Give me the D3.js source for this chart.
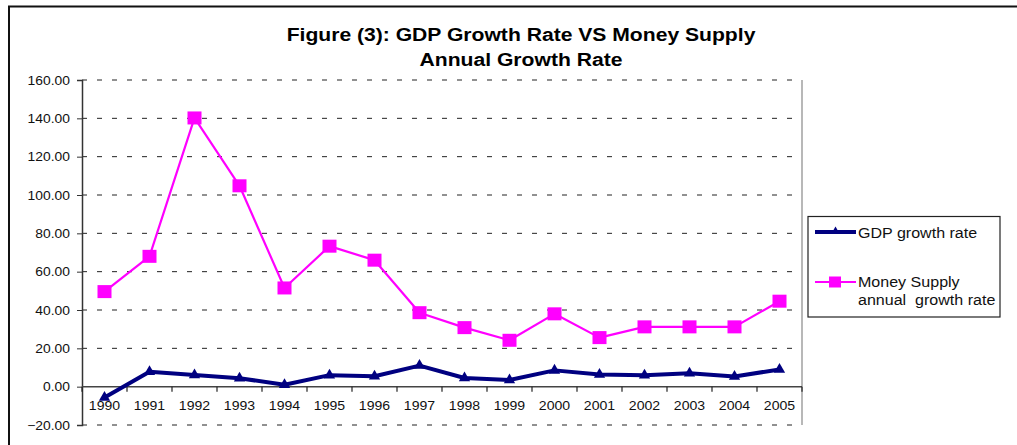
<!DOCTYPE html>
<html>
<head>
<meta charset="utf-8">
<script src="https://cdn.jsdelivr.net/npm/d3@7"></script>
<style>
  html, body { margin: 0; padding: 0; background: #fff; }
  svg { display: block; font-family: "Liberation Sans", Arial, sans-serif; }
</style>
</head>
<body>
<svg id="chart" width="1017" height="445"></svg>
<script>
// Annual growth rates (%), 1990–2005
const years = ["1990","1991","1992","1993","1994","1995","1996","1997",
               "1998","1999","2000","2001","2002","2003","2004","2005"];
const gdpGrowth = [-5.6, 7.8, 6.1, 4.4, 1.0, 6.0, 5.4, 11.0,
                   4.5, 3.5, 8.5, 6.4, 5.9, 7.0, 5.3, 9.0];
const moneyGrowth = [49.6, 68.0, 140.2, 104.8, 51.5, 73.3, 66.0, 38.6,
                     30.8, 24.2, 38.0, 25.6, 31.2, 31.2, 31.2, 44.6];
const yTicks = [-20, 0, 20, 40, 60, 80, 100, 120, 140, 160];
const titleLines = ["Figure (3): GDP Growth Rate VS Money Supply", "Annual Growth Rate"];
const seriesNames = ["GDP growth rate", ["Money Supply", "annual  growth rate"]];

const svg = d3.select("#chart");
const SX = 1.1; // horizontal glyph stretch
const FONT = "'Liberation Sans', Arial, sans-serif";

// outer chart frame
svg.append("path")
  .attr("d", "M9,450 L9,6.5 L1030,6.5")
  .attr("fill", "none").attr("stroke", "#111").attr("stroke-width", 2);

const plot = { left: 82, right: 802, top: 80, bottom: 425 };

const x = d3.scaleBand().domain(years).range([plot.left, plot.right]).paddingInner(0).paddingOuter(0);
const cx = d => x(d) + x.bandwidth() / 2;
const y = d3.scaleLinear().domain([-20, 160]).range([plot.bottom, plot.top]);

// title
titleLines.forEach((t, i) => {
  svg.append("g")
    .attr("transform", `translate(521,${41 + i * 24.5}) scale(${SX},1)`)
    .append("text")
    .attr("text-anchor", "middle")
    .style("font-family", FONT)
    .attr("font-size", 19.2).attr("font-weight", "bold").attr("fill", "#000")
    .text(t);
});

// horizontal dashed gridlines
svg.append("g").selectAll("line")
  .data(yTicks.filter(v => v !== 0))
  .join("line")
  .attr("x1", plot.left).attr("x2", plot.right)
  .attr("y1", d => y(d)).attr("y2", d => y(d))
  .attr("stroke", "#222").attr("stroke-width", 1)
  .attr("stroke-dasharray", "5,10");

// right border of plot area
svg.append("line")
  .attr("x1", plot.right).attr("x2", plot.right)
  .attr("y1", plot.top).attr("y2", plot.bottom)
  .attr("stroke", "#a0a0a0").attr("stroke-width", 1.5);

// y axis
const yAxis = svg.append("g")
  .attr("transform", `translate(${plot.left},0)`)
  .call(d3.axisLeft(y).tickValues(yTicks).tickFormat(d3.format(".2f")).tickSize(5).tickPadding(6));
yAxis.select(".domain").attr("stroke", "#333").attr("stroke-width", 1.5);
yAxis.selectAll(".tick line").attr("stroke", "#333");
yAxis.selectAll(".tick text")
  .attr("font-size", 12.6).attr("fill", "#111")
  .style("font-family", FONT)
  .attr("transform", `scale(${SX},1)`);

// x axis along zero
const y0 = y(0);
svg.append("line")
  .attr("x1", plot.left).attr("x2", plot.right)
  .attr("y1", y0).attr("y2", y0)
  .attr("stroke", "#444").attr("stroke-width", 1.5);
svg.append("g").selectAll("line")
  .data(years.map(d => x(d)).concat([plot.right]))
  .join("line")
  .attr("x1", d => d).attr("x2", d => d)
  .attr("y1", y0).attr("y2", y0 + 5)
  .attr("stroke", "#222").attr("stroke-width", 1.2);
const xAxis = svg.append("g")
  .attr("transform", `translate(0,${y0})`)
  .call(d3.axisBottom(x).tickSize(0).tickPadding(14));
xAxis.select(".domain").remove();
xAxis.selectAll(".tick text")
  .attr("font-size", 12.8).attr("fill", "#111")
  .style("font-family", FONT)
  .attr("transform", `scale(${SX},1)`);

// series lines
const lineGen = vals => d3.line().x((v, i) => cx(years[i])).y(v => y(v))(vals);

svg.append("path")
  .attr("d", lineGen(moneyGrowth))
  .attr("fill", "none").attr("stroke", "#ff00ff").attr("stroke-width", 2.2)
  .attr("stroke-linejoin", "round");
svg.append("g").selectAll("rect")
  .data(moneyGrowth)
  .join("rect")
  .attr("x", (v, i) => cx(years[i]) - 7).attr("y", v => y(v) - 6.5)
  .attr("width", 14).attr("height", 13)
  .attr("fill", "#ff00ff");

svg.append("path")
  .attr("d", lineGen(gdpGrowth))
  .attr("fill", "none").attr("stroke", "#000080").attr("stroke-width", 4)
  .attr("stroke-linejoin", "round");
const tri = d3.symbol().type(d3.symbolTriangle).size(55);
svg.append("g").selectAll("path")
  .data(gdpGrowth)
  .join("path")
  .attr("d", tri)
  .attr("transform", (v, i) => `translate(${cx(years[i])},${y(v)})`)
  .attr("fill", "#000080");

// legend
const lg = svg.append("g");
lg.append("rect")
  .attr("x", 808).attr("y", 216.5).attr("width", 192).attr("height", 100.5)
  .attr("fill", "#fff").attr("stroke", "#222").attr("stroke-width", 1.2);

lg.append("line").attr("x1", 815).attr("x2", 856).attr("y1", 232).attr("y2", 232)
  .attr("stroke", "#000080").attr("stroke-width", 4);
lg.append("path").attr("d", d3.symbol().type(d3.symbolTriangle).size(26))
  .attr("transform", "translate(835.5,231)").attr("fill", "#000080");
lg.append("g").attr("transform", `translate(858,237.5) scale(${SX},1)`)
  .append("text").style("font-family", FONT).attr("font-size", 14.6).attr("fill", "#111")
  .text(seriesNames[0]);

lg.append("line").attr("x1", 815).attr("x2", 856).attr("y1", 282).attr("y2", 282)
  .attr("stroke", "#ff00ff").attr("stroke-width", 2.2);
lg.append("rect").attr("x", 829).attr("y", 276.5).attr("width", 12).attr("height", 11)
  .attr("fill", "#ff00ff");
seriesNames[1].forEach((t, i) => {
  lg.append("g").attr("transform", `translate(858,${287 + i * 18}) scale(${SX},1)`)
    .append("text").style("font-family", FONT).attr("font-size", 14.6).attr("fill", "#111")
    .attr("xml:space", "preserve").style("white-space", "pre").text(t);
});
</script>
</body>
</html>
